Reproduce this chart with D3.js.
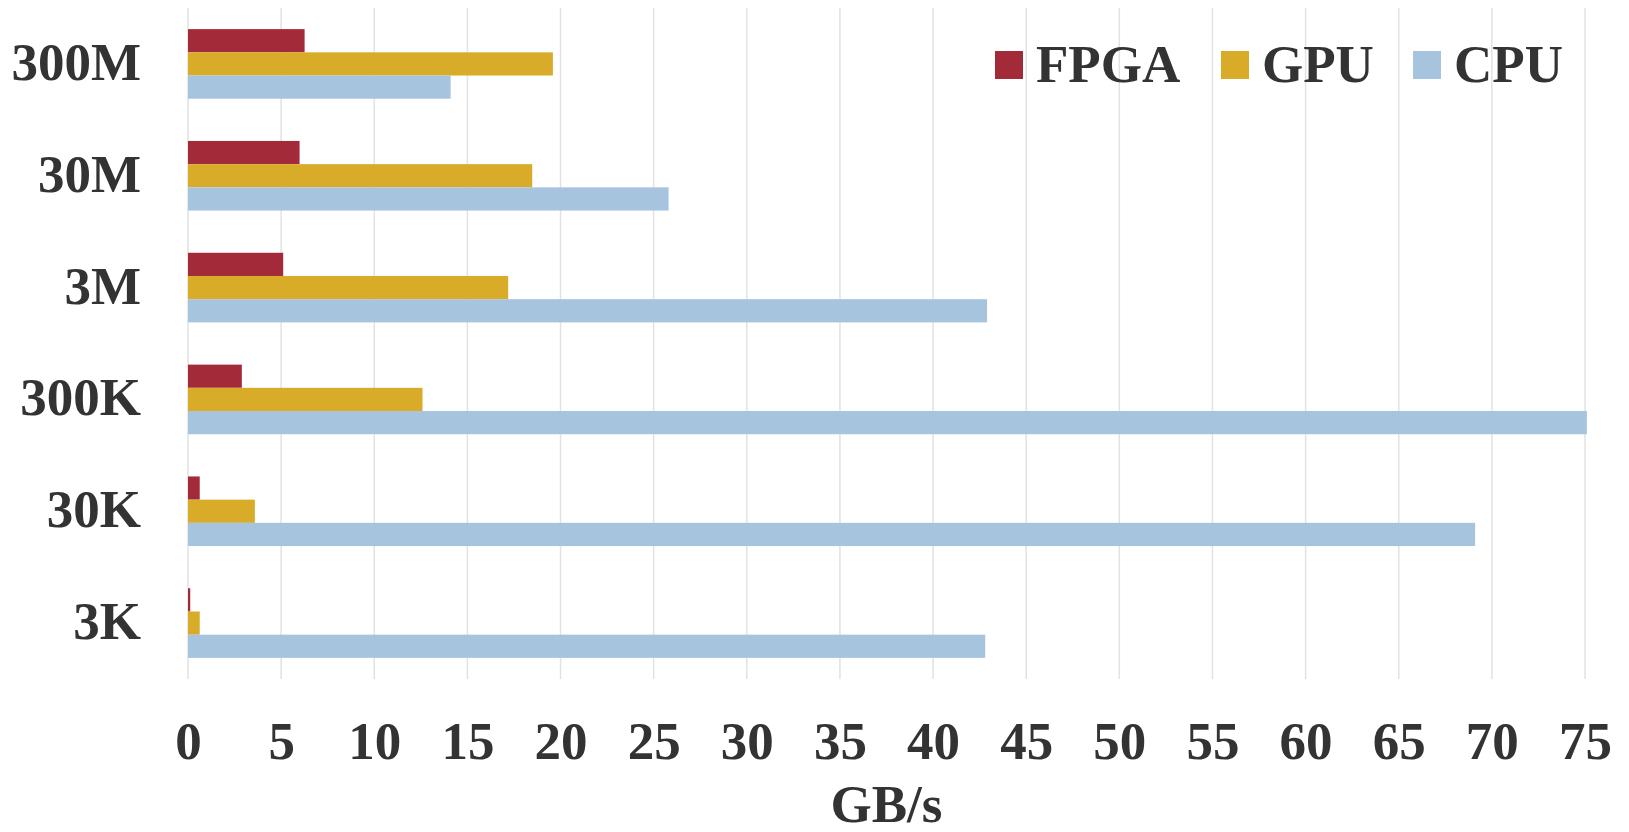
<!DOCTYPE html>
<html>
<head>
<meta charset="utf-8">
<script src="https://cdn.jsdelivr.net/npm/d3@7"></script>
<style>
  html, body { margin: 0; padding: 0; background: #ffffff; }
  svg { display: block; }
  text { font-family: "Liberation Serif", "Times New Roman", serif; font-weight: bold; fill: #333333; }
</style>
</head>
<body>
<svg id="chart" width="1629" height="832"></svg>
<script>
// Input sizes (top to bottom)
const categories = ["300M", "30M", "3M", "300K", "30K", "3K"];
// Series names as listed in the legend and stacked within each group
const seriesNames = ["FPGA", "GPU", "CPU"];
// Throughput in GB/s per input size
const fpgaValues = [6.26, 5.99, 5.11, 2.89, 0.63, 0.12];
const gpuValues  = [19.59, 18.48, 17.19, 12.59, 3.59, 0.63];
const cpuValues  = [14.1, 25.8, 42.9, 75.1, 69.1, 42.8];
// Axis ticks
const xTicks = [0, 5, 10, 15, 20, 25, 30, 35, 40, 45, 50, 55, 60, 65, 70, 75];
const xTitle = "GB/s";

const colors = { FPGA: "#A32A39", GPU: "#D8AC29", CPU: "#A7C4DF" };
const seriesValues = { FPGA: fpgaValues, GPU: gpuValues, CPU: cpuValues };

const svg = d3.select("#chart");

const x = d3.scaleLinear().domain([0, 75]).range([188, 1585]);
const y = d3.scaleBand().domain(categories).range([8, 679]).padding(0);
const ySub = d3.scaleBand().domain(seriesNames).range([0, y.bandwidth()])
  .paddingInner(0).paddingOuter(0.91);

// Vertical gridlines
svg.append("g")
  .selectAll("line")
  .data(xTicks)
  .join("line")
  .attr("x1", d => x(d)).attr("x2", d => x(d))
  .attr("y1", 8).attr("y2", 679)
  .attr("stroke", "#e2e2e2")
  .attr("stroke-width", 1.5);

// Bars
const rows = [];
categories.forEach((c, i) => {
  seriesNames.forEach(s => rows.push({ cat: c, series: s, value: seriesValues[s][i] }));
});

svg.append("g")
  .selectAll("rect")
  .data(rows)
  .join("rect")
  .attr("x", x(0))
  .attr("y", d => y(d.cat) + ySub(d.series))
  .attr("width", d => x(d.value) - x(0))
  .attr("height", ySub.bandwidth())
  .attr("fill", d => colors[d.series]);

// Category axis labels
const yAxis = d3.axisLeft(y).tickSize(0).tickPadding(0);
const yg = svg.append("g").attr("transform", "translate(141,0)").call(yAxis);
yg.select(".domain").remove();
yg.selectAll("text")
  .attr("x", 0)
  .attr("dy", null)
  .attr("dominant-baseline", "auto")
  .attr("transform", "translate(0,16)")
  .style("font-size", "53px")
  .style("font-family", "'Liberation Serif', 'Times New Roman', serif")
  .style("font-weight", "bold")
  .attr("fill", "#333333");

// Value axis labels
const xAxis = d3.axisBottom(x).tickValues(xTicks).tickSize(0).tickPadding(0).tickFormat(d3.format("d"));
const xg = svg.append("g").attr("transform", "translate(0,759)").call(xAxis);
xg.select(".domain").remove();
xg.selectAll("text")
  .attr("y", 0)
  .attr("dy", null)
  .attr("dominant-baseline", "auto")
  .style("font-size", "53px")
  .style("font-family", "'Liberation Serif', 'Times New Roman', serif")
  .style("font-weight", "bold")
  .attr("fill", "#333333");

// Axis title
svg.append("text")
  .attr("x", (x(0) + x(75)) / 2)
  .attr("y", 822)
  .attr("text-anchor", "middle")
  .style("font-size", "53px")
  .text(xTitle);

// Legend
const legendX = [995, 1221, 1413];
const legend = svg.append("g")
  .selectAll("g")
  .data(seriesNames)
  .join("g")
  .attr("transform", (d, i) => `translate(${legendX[i]},0)`);
legend.append("rect")
  .attr("x", 0).attr("y", 51)
  .attr("width", 28).attr("height", 28)
  .attr("fill", d => colors[d]);
legend.append("text")
  .attr("x", 41).attr("y", 82)
  .style("font-size", "53px")
  .text(d => d);
</script>
</body>
</html>
